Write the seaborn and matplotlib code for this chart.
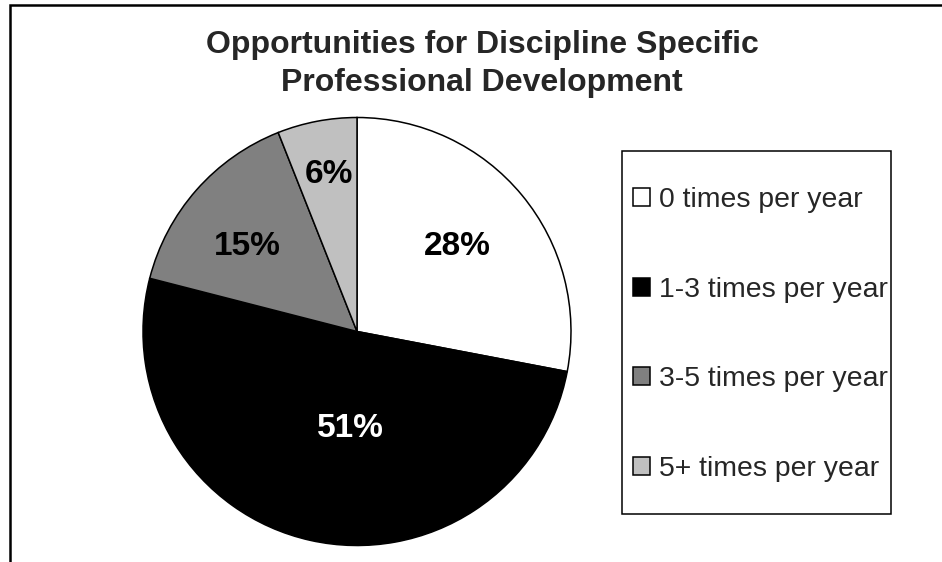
"""Pie chart: opportunities for discipline specific professional development."""

import matplotlib
matplotlib.use("Agg")
import matplotlib.pyplot as plt
import seaborn as sns
from matplotlib.patches import Rectangle

# data
categories = ["0 times per year", "1-3 times per year",
              "3-5 times per year", "5+ times per year"]
shares = [28, 51, 15, 6]
title = "Opportunities for Discipline Specific\nProfessional Development"

# styling
slice_colors = ["#FFFFFF", "#000000", "#808080", "#C0C0C0"]
label_colors = ["black", "white", "black", "black"]
# label offsets from the pie centre, in pixels (Excel-style placement)
label_offsets = [(100, 85), (-7, -97), (-110, 85), (-28, 157)]

sns.set_theme(style="white")
plt.rcParams["font.family"] = ["Liberation Sans", "DejaVu Sans"]

W, H = 942, 562
fig = plt.figure(figsize=(W / 100, H / 100), dpi=100)
ax = fig.add_axes([0, 0, 1, 1])

cx, cy, r = 357, H - 331.5, 214
wedges, _, autotexts = ax.pie(
    shares,
    colors=slice_colors,
    startangle=90,
    counterclock=False,
    center=(cx, cy),
    radius=r,
    autopct="%.0f%%",
    wedgeprops=dict(edgecolor="black", linewidth=1.1),
    frame=True,
)
ax.set_xlim(0, W)
ax.set_ylim(0, H)
ax.set_aspect("equal")
ax.axis("off")

for t, (dx, dy), c in zip(autotexts, label_offsets, label_colors):
    t.set_position((cx + dx, cy + dy))
    t.set_color(c)
    t.set_fontsize(24)
    t.set_fontweight("bold")
    t.set_ha("center")
    t.set_va("center")

# title
ax.text(482, H - 30, title, ha="center", va="top", fontsize=23,
        fontweight="bold", linespacing=1.34)

# legend box and entries
ax.add_patch(Rectangle((622, H - 514), 269, 363, fill=False,
                       edgecolor="black", linewidth=1.1, zorder=1))
ax.legend(wedges, categories, loc="center left", frameon=False,
          bbox_to_anchor=(633, cy - 3), bbox_transform=ax.transData,
          borderaxespad=0, borderpad=0, fontsize=20.4,
          handlelength=0.6, handleheight=0.6, handletextpad=0.32,
          labelspacing=2.24)

# outer chart border (bottom edge falls outside the image)
ax.add_patch(Rectangle((9.5, -30), 1000, H - 5 + 30, fill=False,
                       edgecolor="black", linewidth=1.8, clip_on=False))

fig.savefig("out.png", dpi=100)
